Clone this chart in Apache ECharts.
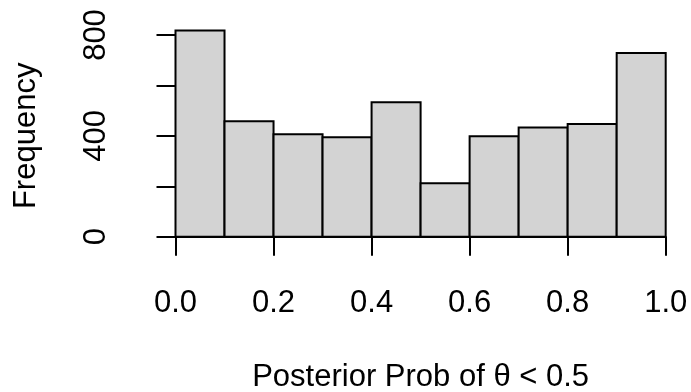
<!DOCTYPE html>
<html>
<head>
<meta charset="utf-8">
<script src="https://cdn.jsdelivr.net/npm/echarts@6/dist/echarts.min.js"></script>
<style>
html,body{margin:0;padding:0;background:#fff;}
#chart{width:691px;height:392px;}
</style>
</head>
<body>
<div id="chart"></div>
<script>
// Histogram data
const binEdges = [0.0, 0.1, 0.2, 0.3, 0.4, 0.5, 0.6, 0.7, 0.8, 0.9, 1.0];
const counts = [818, 458, 406, 394, 533, 212, 398, 433, 447, 729];
const xTicks = [0.0, 0.2, 0.4, 0.6, 0.8, 1.0];
const yTickLabels = [0, 400, 800];
const xTitle = 'Posterior Prob of \u03b8 < 0.5';
const yTitle = 'Frequency';

const FONT = '"Liberation Sans", Arial, Helvetica, sans-serif';
const binData = counts.map((c, i) => [binEdges[i], binEdges[i + 1], c]);

const chart = echarts.init(document.getElementById('chart'), null, {renderer: 'canvas'});
chart.setOption({
  backgroundColor: '#ffffff',
  animation: false,
  grid: {left: 175.5, right: 25.3, top: 35, bottom: 155.3, containLabel: false, outerBoundsMode: 'none'},
  xAxis: {
    type: 'value', min: 0, max: 1, interval: 0.2,
    offset: 8.8,
    axisLine: {show: true, lineStyle: {color: '#000', width: 2}},
    axisTick: {show: true, length: 19, lineStyle: {color: '#000', width: 2}},
    axisLabel: {
      show: true, margin: 42.5, fontSize: 31, color: '#000', fontFamily: FONT,
      formatter: v => xTicks.some(t => Math.abs(t - v) < 1e-9) ? v.toFixed(1) : ''
    },
    splitLine: {show: false},
    name: xTitle, nameLocation: 'middle', nameGap: 116.5,
    nameTextStyle: {fontSize: 31, color: '#000', fontFamily: FONT}
  },
  yAxis: {
    type: 'value', min: 0, max: 800, interval: 200,
    offset: 20,
    axisLine: {show: true, lineStyle: {color: '#000', width: 2}},
    axisTick: {show: true, length: 19, lineStyle: {color: '#000', width: 2}},
    axisLabel: {
      show: true, rotate: 90, margin: 43.5, fontSize: 31, color: '#000', fontFamily: FONT,
      formatter: v => yTickLabels.indexOf(v) >= 0 ? String(v) : ''
    },
    splitLine: {show: false},
    name: yTitle, nameLocation: 'middle', nameGap: 113.5,
    nameTextStyle: {fontSize: 31, color: '#000', fontFamily: FONT}
  },
  series: [{
    type: 'custom',
    clip: false,
    data: binData,
    encode: {x: [0, 1], y: 2},
    renderItem: function (params, api) {
      const p0 = api.coord([api.value(0), api.value(2)]);
      const p1 = api.coord([api.value(1), 0]);
      return {
        type: 'rect',
        shape: {x: p0[0], y: p0[1], width: p1[0] - p0[0], height: p1[1] - p0[1]},
        style: {fill: '#D3D3D3', stroke: '#000', lineWidth: 2}
      };
    }
  }]
});
</script>
</body>
</html>
